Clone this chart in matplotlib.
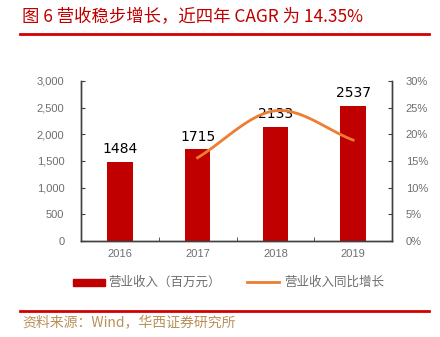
import matplotlib.pyplot as plt
import numpy as np
from matplotlib.ticker import FuncFormatter, FixedLocator

plt.rcParams['font.family'] = ['Noto Sans CJK SC', 'DejaVu Sans']

years = ['2016', '2017', '2018', '2019']
revenue = [1484, 1715, 2133, 2537]
growth = [None, 15.6, 24.4, 18.9]

bar_red = '#c00000'
line_orange = '#ed7d31'
tick_grey = '#6e6e6e'

fig = plt.figure(figsize=(4.4, 3.37), dpi=100)
ax = fig.add_axes([0.184, 0.285, 0.707, 0.475])
ax2 = ax.twinx()

x = np.arange(len(years))
ax.bar(x, revenue, width=0.33, color=bar_red, zorder=2)
for xi, v in zip(x, revenue):
    ax.text(xi, v + 110, str(v), ha='center', va='bottom', fontsize=10,
            color='black', family='DejaVu Sans', zorder=5)

# smooth curve through the growth points (Catmull-Rom)
gx = np.array([i for i, g in enumerate(growth) if g is not None], dtype=float)
gy = np.array([g for g in growth if g is not None])
px = np.concatenate([[2 * gx[0] - gx[1]], gx, [2 * gx[-1] - gx[-2]]])
py = np.concatenate([[2 * gy[0] - gy[1]], gy, [2 * gy[-1] - gy[-2]]])
sx, sy = [], []
for i in range(1, len(px) - 2):
    t = np.linspace(0, 1, 30)
    for arr, out in ((px, sx), (py, sy)):
        p0, p1, p2, p3 = arr[i - 1], arr[i], arr[i + 1], arr[i + 2]
        out.extend(0.5 * (2 * p1 + (-p0 + p2) * t + (2 * p0 - 5 * p1 + 4 * p2 - p3) * t ** 2
                          + (-p0 + 3 * p1 - 3 * p2 + p3) * t ** 3))
ax2.plot(sx, sy, color=line_orange, lw=2, zorder=3)

ax.set_xlim(-0.5, 3.5)
ax.set_ylim(0, 3000)
ax.set_yticks(range(0, 3001, 500))
ax.yaxis.set_major_formatter(FuncFormatter(lambda v, p: f'{int(v):,}'))
ax2.set_ylim(0, 30)
ax2.set_yticks(range(0, 31, 5))
ax2.yaxis.set_major_formatter(FuncFormatter(lambda v, p: f'{int(v)}%'))
ax.set_xticks(x)
ax.set_xticklabels(years)
ax.xaxis.set_minor_locator(FixedLocator([0.5, 1.5, 2.5]))

for a in (ax, ax2):
    a.spines['top'].set_visible(False)
    for s in ('left', 'right', 'bottom'):
        a.spines[s].set_color('#404040')
        a.spines[s].set_linewidth(1)
    a.tick_params(axis='y', direction='in', length=3, labelsize=8, labelcolor=tick_grey,
                  color='#404040', pad=12)
    for lab in a.get_yticklabels():
        lab.set_family('Liberation Sans')
ax.tick_params(axis='x', which='major', length=0, labelsize=8, labelcolor=tick_grey, pad=6)
ax.tick_params(axis='x', which='minor', direction='in', length=3, color='#404040')
for lab in ax.get_xticklabels():
    lab.set_family('Liberation Sans')
ax2.tick_params(axis='y', pad=10)
ax.set_zorder(ax2.get_zorder() - 1)
ax2.patch.set_visible(False)

# title and rules
fig.text(0.05, 0.975, '图 6 营收稳步增长，近四年 CAGR 为 14.35%', color='#c00000',
         fontsize=12.5, va='top', ha='left')
fig.add_artist(plt.Line2D([0.045, 0.975], [0.898, 0.898], color='#d00000', lw=2))
fig.add_artist(plt.Line2D([0.045, 0.975], [0.077, 0.077], color='#d00000', lw=2))
fig.text(0.05, 0.043, '资料来源：Wind，华西证券研究所', color='#b8915a', fontsize=10,
         va='center', ha='left')

# legend
fig.add_artist(plt.Rectangle((0.166, 0.151), 0.073, 0.022, color=bar_red,
                             transform=fig.transFigure))
fig.text(0.245, 0.162, '营业收入（百万元）', color=tick_grey, fontsize=9, va='center')
fig.add_artist(plt.Line2D([0.561, 0.634], [0.162, 0.162], color=line_orange, lw=2))
fig.text(0.645, 0.162, '营业收入同比增长', color=tick_grey, fontsize=9, va='center')

fig.savefig('out.png', dpi=100)
